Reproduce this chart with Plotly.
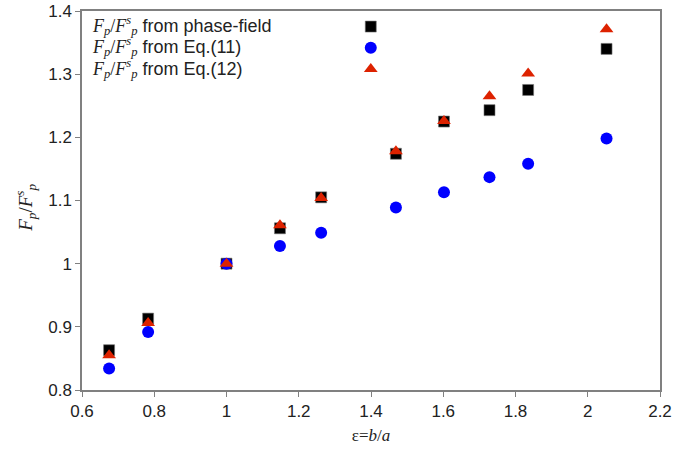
import plotly.graph_objects as go

# Data
eps = [0.675, 0.783, 1.0, 1.148, 1.262, 1.469, 1.602, 1.728, 1.835, 2.052]
phase_field = [0.863, 0.913, 1.0, 1.056, 1.105, 1.174, 1.225, 1.243, 1.275, 1.340]
eq11 = [0.834, 0.892, 1.0, 1.028, 1.049, 1.089, 1.113, 1.137, 1.158, 1.198]
eq12 = [0.855, 0.906, 1.0, 1.061, 1.104, 1.178, 1.226, 1.265, 1.301, 1.371]

x_ticks = [0.6, 0.8, 1.0, 1.2, 1.4, 1.6, 1.8, 2.0, 2.2]
x_tick_text = ["0.6", "0.8", "1", "1.2", "1.4", "1.6", "1.8", "2", "2.2"]
y_ticks = [0.8, 0.9, 1.0, 1.1, 1.2, 1.3, 1.4]
y_tick_text = ["0.8", "0.9", "1", "1.1", "1.2", "1.3", "1.4"]

FRAC = "<i>F</i><sub><i>p</i></sub>/<i>F</i><sup><i>s</i></sup><sub><i>p</i></sub>"
legend_labels = [
    FRAC + "<span style='font-family:Liberation Sans'> from phase-field</span>",
    FRAC + "<span style='font-family:Liberation Sans'> from Eq.(11)</span>",
    FRAC + "<span style='font-family:Liberation Sans'> from Eq.(12)</span>",
]

fig = go.Figure()
fig.add_trace(go.Scatter(
    x=eps, y=phase_field, mode="markers", name=" ",
    marker=dict(symbol="square", size=11, color="black",
                line=dict(color="#777777", width=0.6)),
))
fig.add_trace(go.Scatter(
    x=eps, y=eq11, mode="markers", name=" ",
    marker=dict(symbol="circle", size=12, color="#0000ff",
                line=dict(width=0)),
))
fig.add_trace(go.Scatter(
    x=eps, y=eq12, mode="markers", name=" ",
    marker=dict(symbol="triangle-up", size=12, color="#dd2200",
                line=dict(width=0)),
))

axis_common = dict(
    showgrid=False, zeroline=False, showline=True, linecolor="#808080",
    linewidth=1.5, mirror=True, ticks="outside", ticklen=5,
    tickcolor="#808080", tickwidth=1, automargin=False,
    tickfont=dict(family="Liberation Sans, Arial, sans-serif", size=17, color="#222222"),
)

fig.update_layout(
    width=677, height=449,
    margin=dict(l=82, r=17, t=11, b=59),
    paper_bgcolor="white", plot_bgcolor="white",
    showlegend=True,
    legend=dict(x=0.465, y=1.0, xanchor="left", yanchor="top",
                bgcolor="rgba(0,0,0,0)", font=dict(size=14),
                tracegroupgap=0, itemwidth=30),
    xaxis=dict(range=[0.6, 2.2], tickvals=x_ticks, ticktext=x_tick_text,
               title=dict(text="ε=<i>b</i>/<i>a</i>", standoff=9,
                          font=dict(family="Liberation Serif, Times New Roman, serif",
                                    size=17, color="#222222")),
               **axis_common),
    yaxis=dict(range=[0.8, 1.4], tickvals=y_ticks, ticktext=y_tick_text,
               **axis_common),
)

# y-axis title (placed slightly below the plot centre, as in the reference)
fig.add_annotation(
    text=FRAC, xref="paper", yref="paper", x=-0.099, y=0.48,
    xanchor="center", yanchor="middle", textangle=-90, showarrow=False,
    font=dict(family="Liberation Serif, Times New Roman, serif", size=19, color="#222222"),
)

legend_y = [0.962, 0.906, 0.848]
for label, yy in zip(legend_labels, legend_y):
    fig.add_annotation(
        text=label, xref="paper", yref="paper", x=0.014, y=yy,
        xanchor="left", yanchor="middle", showarrow=False,
        font=dict(family="Liberation Serif, Times New Roman, serif",
                  size=18, color="#222222"),
    )

fig.write_html("out.html")
